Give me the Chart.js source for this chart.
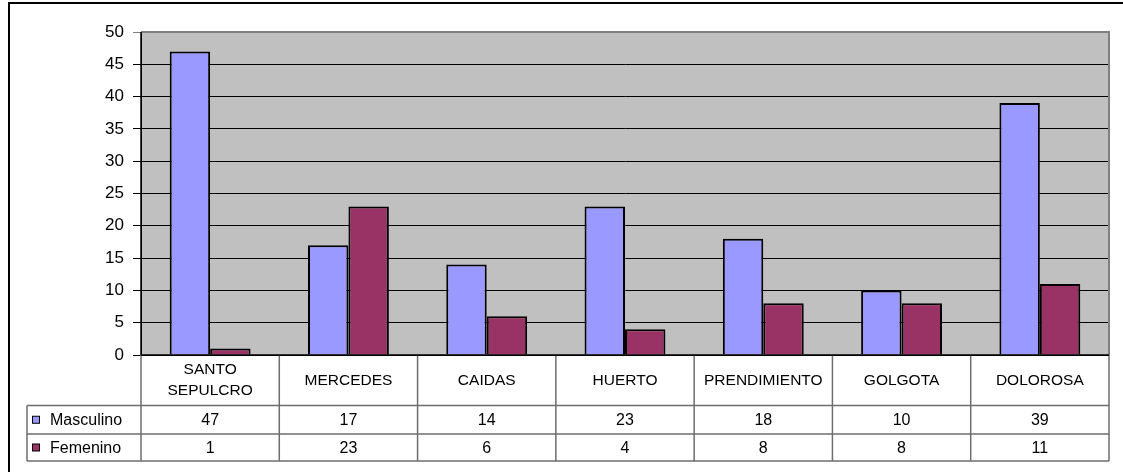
<!DOCTYPE html>
<html>
<head>
<meta charset="utf-8">
<script src="https://cdn.jsdelivr.net/npm/chart.js@4/dist/chart.umd.min.js"></script>
<style>
html,body{margin:0;padding:0;background:#fff;}
#wrap{width:1123px;height:472px;position:relative;}
</style>
</head>
<body>
<div id="wrap"><canvas id="c"></canvas></div>
<script>
const categories = [['SANTO','SEPULCRO'], 'MERCEDES', 'CAIDAS', 'HUERTO', 'PRENDIMIENTO', 'GOLGOTA', 'DOLOROSA'];
const seriesNames = ['Masculino', 'Femenino'];
const masculino = [47, 17, 14, 23, 18, 10, 39];
const femenino = [1, 23, 6, 4, 8, 8, 11];
const seriesColors = ['#9999FF', '#993366'];
const yTicksMin = 0, yTicksMax = 50, yStep = 5;

const FONT = '"Liberation Sans", Arial, sans-serif';

const bgPlugin = {
  id: 'bg',
  beforeDraw(chart) {
    const {ctx, chartArea: a} = chart;
    ctx.save();
    ctx.fillStyle = '#C0C0C0';
    ctx.fillRect(a.left, a.top, a.right - a.left, a.bottom - a.top);
    ctx.restore();
  }
};

const tablePlugin = {
  id: 'table',
  afterDraw(chart) {
    const {ctx, chartArea: a} = chart;
    const n = categories.length;
    const colW = (a.right - a.left) / n;
    const y0 = a.bottom, y1 = 405.5, y2 = 434, y3 = 461;
    const tableLeft = 27;
    ctx.save();
    // plot border top and right
    ctx.strokeStyle = '#808080';
    ctx.lineWidth = 2;
    ctx.beginPath();
    ctx.moveTo(a.left, a.top);
    ctx.lineTo(a.right, a.top);
    ctx.lineTo(a.right, a.bottom);
    ctx.stroke();

    // table lines
    ctx.strokeStyle = '#6e6e6e';
    ctx.lineWidth = 1.5;
    ctx.beginPath();
    ctx.moveTo(tableLeft, y1); ctx.lineTo(a.right, y1);
    ctx.moveTo(tableLeft, y2); ctx.lineTo(a.right, y2);
    ctx.moveTo(tableLeft, y3); ctx.lineTo(a.right, y3);
    ctx.moveTo(tableLeft, y1); ctx.lineTo(tableLeft, y3);
    for (let i = 0; i <= n; i++) {
      const x = a.left + i * colW;
      ctx.moveTo(x, y0); ctx.lineTo(x, y3);
    }
    ctx.stroke();
    // axis line over
    ctx.strokeStyle = '#000';
    ctx.lineWidth = 1.5;
    ctx.beginPath();
    ctx.moveTo(a.left, y0); ctx.lineTo(a.right, y0);
    ctx.moveTo(a.left, a.top); ctx.lineTo(a.left, y0);
    ctx.stroke();

    ctx.fillStyle = '#000';
    ctx.font = '15.5px ' + FONT;
    ctx.textAlign = 'center';
    ctx.textBaseline = 'middle';
    const midCat = (y0 + y1) / 2;
    categories.forEach((c, i) => {
      const cx = a.left + (i + 0.5) * colW;
      const lines = Array.isArray(c) ? c : [c];
      const lh = 21;
      lines.forEach((t, j) => {
        ctx.fillText(t, cx, midCat + (j - (lines.length - 1) / 2) * lh);
      });
    });
    ctx.font = '16px ' + FONT;
    const rows = [masculino, femenino];
    const rowMid = [(y1 + y2) / 2, (y2 + y3) / 2];
    rows.forEach((vals, r) => {
      vals.forEach((v, i) => {
        const cx = a.left + (i + 0.5) * colW;
        ctx.fillText(String(v), cx, rowMid[r] + 1);
      });
      // legend key
      ctx.fillStyle = seriesColors[r];
      ctx.fillRect(32.5, rowMid[r] - 3.5, 7, 7);
      ctx.strokeStyle = '#000';
      ctx.lineWidth = 1;
      ctx.strokeRect(32.5, rowMid[r] - 3.5, 7, 7);
      ctx.fillStyle = '#000';
      ctx.textAlign = 'left';
      ctx.fillText(seriesNames[r], 50, rowMid[r] + 1);
      ctx.textAlign = 'center';
    });

    // outer border
    ctx.strokeStyle = '#000';
    ctx.lineWidth = 2;
    ctx.beginPath();
    ctx.moveTo(9, 473); ctx.lineTo(9, 3); ctx.lineTo(1124, 3);
    ctx.stroke();
    ctx.restore();
  }
};

new Chart(document.getElementById('c'), {
  type: 'bar',
  data: {
    labels: categories,
    datasets: [
      {label: seriesNames[0], data: masculino, backgroundColor: seriesColors[0], borderColor: '#000', borderWidth: 2, barPercentage: 1, categoryPercentage: 0.585},
      {label: seriesNames[1], data: femenino, backgroundColor: seriesColors[1], borderColor: '#000', borderWidth: 2, barPercentage: 1, categoryPercentage: 0.585}
    ]
  },
  options: {
    responsive: true,
    maintainAspectRatio: false,
    animation: false,
    layout: {padding: {left: 0, top: 32, right: 14, bottom: 117}},
    plugins: {legend: {display: false}, tooltip: {enabled: false}},
    scales: {
      x: {display: false},
      y: {
        min: yTicksMin, max: yTicksMax,
        ticks: {stepSize: yStep, color: '#000', font: {size: 17, family: FONT}, padding: 9},
        grid: {color: ctx => (ctx.tick && ctx.tick.value === yTicksMax) ? '#808080' : '#000', tickLength: 8, lineWidth: 1},
        border: {color: '#000', width: 1},
        afterFit: s => { s.width = 141; }
      }
    }
  },
  plugins: [bgPlugin, tablePlugin]
});
</script>
</body>
</html>
